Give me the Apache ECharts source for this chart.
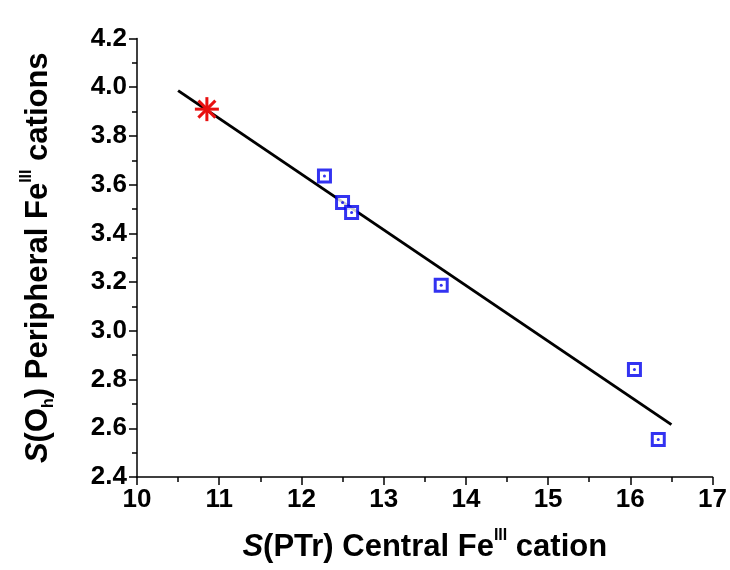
<!DOCTYPE html>
<html>
<head>
<meta charset="utf-8">
<script src="https://cdn.jsdelivr.net/npm/echarts@6/dist/echarts.min.js"></script>
<style>html,body{margin:0;padding:0;background:#fff}#c{width:730px;height:570px}</style>
</head>
<body>
<div id="c"></div>
<script>
var squareX = [12.28, 12.50, 12.61, 13.70, 16.05, 16.34];
var squareY = [3.636, 3.527, 3.486, 3.187, 2.841, 2.554];
var starX = [10.85];
var starY = [3.91];
var fitX = [10.5, 16.5];
var fitY = [3.986, 2.615];
var xTicks = [10, 11, 12, 13, 14, 15, 16, 17];
var yTicks = [2.4, 2.6, 2.8, 3.0, 3.2, 3.4, 3.6, 3.8, 4.0, 4.2];

function zip(a, b) { return a.map(function (v, i) { return [v, b[i]]; }); }

var FONT = 'Liberation Sans';
var chart = echarts.init(document.getElementById('c'), null, {renderer: 'canvas'});
var axisCommon = {
  axisLine: {show: true, lineStyle: {color: '#000', width: 1.5}},
  axisTick: {show: true, inside: false, length: 8, lineStyle: {color: '#000', width: 1.5}},
  minorTick: {show: true, splitNumber: 2, length: 5, lineStyle: {color: '#000', width: 1.5}},
  splitLine: {show: false},
  axisLabel: {color: '#000', fontFamily: FONT, fontWeight: 'bold', fontSize: 26}
};
var nameRich = {
  i: {fontStyle: 'italic', fontWeight: 'bold', fontFamily: FONT, fontSize: 31, color: '#000', lineHeight: 38},
  n: {fontWeight: 'bold', fontFamily: FONT, fontSize: 31, color: '#000', lineHeight: 38},
  sup: {fontWeight: 'bold', fontFamily: FONT, fontSize: 16, color: '#000', verticalAlign: 'top', lineHeight: 38},
  sub: {fontWeight: 'bold', fontFamily: FONT, fontSize: 16, color: '#000', verticalAlign: 'bottom', lineHeight: 32}
};

chart.setOption({
  animation: false,
  backgroundColor: '#fff',
  grid: {left: 137, right: 13, top: 38.5, bottom: 93, containLabel: false},
  xAxis: Object.assign({}, axisCommon, {
    type: 'value', min: xTicks[0], max: xTicks[xTicks.length - 1], interval: 1,
    name: '{i|S}{n|(PTr) Central Fe}{sup|III}{n| cation}',
    nameLocation: 'middle', nameGap: 51,
    nameTextStyle: {rich: nameRich},
    axisLabel: Object.assign({}, axisCommon.axisLabel, {margin: 10})
  }),
  yAxis: Object.assign({}, axisCommon, {
    type: 'value', min: yTicks[0], max: yTicks[yTicks.length - 1], interval: 0.2,
    name: '{i|S}{n|(O}{sub|h}{n|) Peripheral Fe}{sup|III}{n| cations}',
    nameLocation: 'middle', nameGap: 80, nameRotate: 90,
    nameTextStyle: {rich: nameRich},
    axisLabel: Object.assign({}, axisCommon.axisLabel, {margin: 10, formatter: function (v) { return v.toFixed(1); }})
  }),
  series: [
    {
      type: 'line', data: zip(fitX, fitY), symbol: 'none',
      lineStyle: {color: '#000', width: 3}, z: 2
    },
    {
      type: 'scatter', data: zip(squareX, squareY), symbol: 'rect', symbolSize: 12,
      itemStyle: {color: '#fff', borderColor: '#0000ee', borderWidth: 3}, z: 3
    },
    {
      type: 'scatter', data: zip(squareX, squareY), symbol: 'circle', symbolSize: 3,
      itemStyle: {color: '#0000ee'}, z: 4
    },
    {
      type: 'custom', data: zip(starX, starY), z: 5,
      renderItem: function (params, api) {
        var p = api.coord([api.value(0), api.value(1)]);
        var r = 12, kids = [];
        for (var k = 0; k < 4; k++) {
          var a = k * Math.PI / 4;
          var dx = r * Math.cos(a), dy = r * Math.sin(a);
          kids.push({type: 'line', shape: {x1: p[0] - dx, y1: p[1] - dy, x2: p[0] + dx, y2: p[1] + dy},
            style: {stroke: '#e81010', lineWidth: 3}});
        }
        return {type: 'group', children: kids};
      }
    }
  ]
});
</script>
</body>
</html>
